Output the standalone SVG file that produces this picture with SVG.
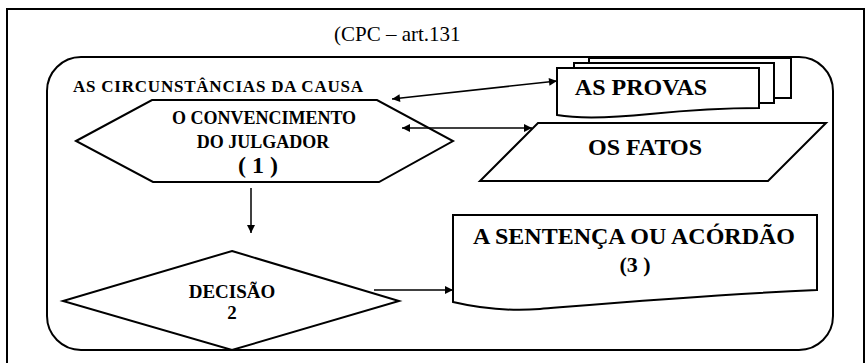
<svg xmlns="http://www.w3.org/2000/svg" width="867" height="363" viewBox="0 0 867 363">
<defs>
<style>
.sh{fill:#fff;stroke:#000;stroke-width:2}
.ln{fill:none;stroke:#000;stroke-width:1.5}
text{font-family:'Liberation Serif','DejaVu Serif','Times New Roman',serif;fill:#000}
.b{font-weight:bold;text-anchor:middle}
</style>
<marker id="ah" viewBox="0 0 10 10" refX="10" refY="5" markerWidth="10" markerHeight="8" markerUnits="userSpaceOnUse" orient="auto-start-reverse">
<path d="M0,0 L10,5 L0,10 Z" fill="#000"/>
</marker>
</defs>
<rect x="7" y="9" width="857" height="420" fill="#fff" stroke="#000" stroke-width="2"/>
<text x="334" y="41" font-size="21">(CPC – art.131</text>
<g id="causa">
<rect class="sh" x="47" y="57" width="786" height="293" rx="34" ry="34"/>
<text class="b" x="218" y="92" font-size="17" textLength="290" lengthAdjust="spacing">AS CIRCUNSTÂNCIAS DA CAUSA</text>
</g>
<g id="provas">
<rect class="sh" x="589" y="58" width="202" height="40"/>
<rect class="sh" x="574" y="63" width="200" height="40"/>
<path class="sh" d="M557,68 H759 V108 C720,108 690,110 650,114 C610,118 580,119 557,115 Z"/>
<text class="b" x="641" y="95" font-size="24">AS PROVAS</text>
</g>
<g id="convencimento">
<polygon class="sh" points="76,141 152,100 377,100 453,141 379,182 153,182"/>
<text class="b" x="264" y="124" font-size="18">O CONVENCIMENTO</text>
<text class="b" x="263" y="148" font-size="18">DO JULGADOR</text>
<text class="b" x="258" y="173" font-size="24">( 1 )</text>
</g>
<g id="fatos">
<polygon class="sh" points="538,123 826,123 768,181 480,181"/>
<text class="b" x="645" y="155" font-size="24">OS FATOS</text>
</g>
<g id="decisao">
<polygon class="sh" points="232,251 399,301 232,350 63,301"/>
<text class="b" x="232" y="298" font-size="19">DECISÃO</text>
<text class="b" x="232" y="319" font-size="19">2</text>
</g>
<g id="sentenca">
<path class="sh" d="M453,215 H817 V290 C700,295 600,304 540,309 C500,312 470,306 453,302 Z"/>
<text class="b" x="634" y="244" font-size="24">A SENTENÇA OU ACÓRDÃO</text>
<text class="b" x="635" y="272" font-size="22">(3 )</text>
</g>
<g id="connectors">
<line class="ln" x1="392" y1="99" x2="557" y2="81" marker-start="url(#ah)" marker-end="url(#ah)"/>
<line class="ln" x1="402" y1="128" x2="532" y2="128" marker-start="url(#ah)" marker-end="url(#ah)"/>
<line class="ln" x1="251" y1="188" x2="251" y2="233" marker-end="url(#ah)"/>
<line class="ln" x1="374" y1="290" x2="453" y2="290" marker-end="url(#ah)"/>
</g>
</svg>
